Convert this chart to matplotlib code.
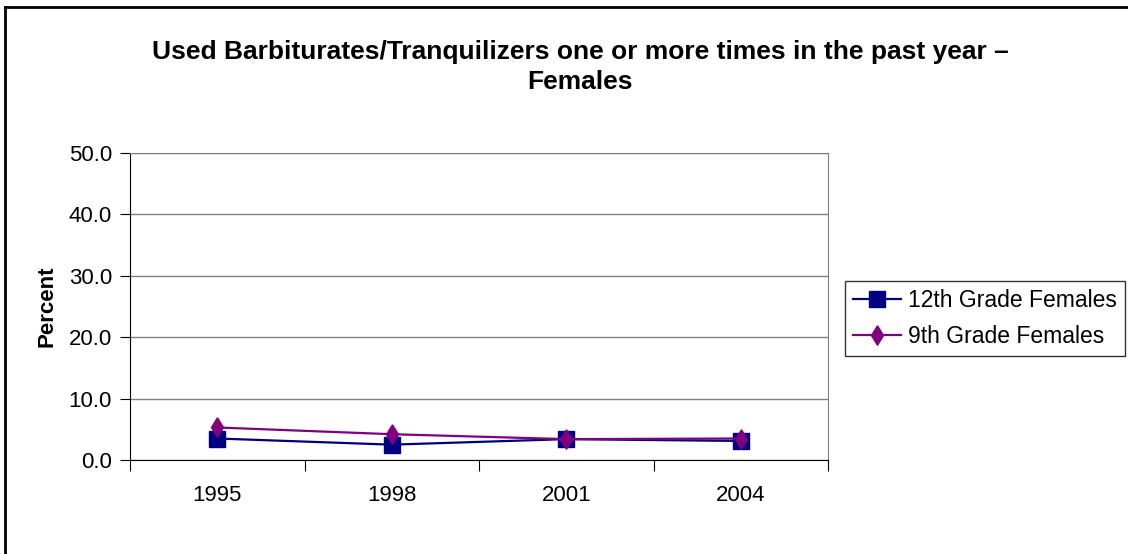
import matplotlib
matplotlib.use('Agg')
from matplotlib import pyplot as plt
from matplotlib.lines import Line2D

years = ['1995', '1998', '2001', '2004']
grade12 = [3.5, 2.5, 3.4, 3.1]
grade9 = [5.3, 4.2, 3.4, 3.5]

plt.rcParams['font.family'] = ['Liberation Sans', 'DejaVu Sans']

W, H = 1128, 554
fig = plt.figure(figsize=(W / 100, H / 100), dpi=100)
ax = fig.add_axes([130 / W, 1 - 460 / H, 698 / W, 307 / H])

# tall thin diamond like the original
diamond = [(0, 1), (0.62, 0), (0, -1), (-0.62, 0), (0, 1)]

x = [i + 0.5 for i in range(len(years))]
ax.plot(x, grade12, color='#000080', marker='s', markersize=11, linewidth=1.6,
        label='12th Grade Females')
ax.plot(x, grade9, color='#800080', marker=diamond, markersize=14, linewidth=1.6,
        label='9th Grade Females')

ax.set_xlim(0, len(years))
ax.set_ylim(0, 50)
yt = [0, 10, 20, 30, 40, 50]
ax.set_yticks(yt)
ax.set_yticklabels(['%.1f' % v for v in yt], fontsize=16)
ax.set_xticks(range(len(years) + 1))
ax.set_xticklabels([])
ax.set_xticks(x, minor=True)
ax.set_xticklabels(years, minor=True, fontsize=16)
ax.tick_params(axis='x', which='minor', length=0, pad=18)
ax.tick_params(axis='x', which='major', length=8, direction='out', color='black')
ax.tick_params(axis='y', length=7, direction='out', color='black', pad=6)
ax.grid(axis='y', color='#808080', linewidth=1)
ax.set_axisbelow(True)
for side in ['top', 'right']:
    ax.spines[side].set_color('#808080')
for side in ['left', 'bottom']:
    ax.spines[side].set_color('black')

ax.set_ylabel('Percent', fontsize=16, fontweight='bold', labelpad=8)

fig.text(580 / W, 1 - 67 / H,
         'Used Barbiturates/Tranquilizers one or more times in the past year \u2013\nFemales',
         ha='center', va='center', fontsize=19, fontweight='bold', linespacing=1.35)

leg = fig.legend(loc='upper left', bbox_to_anchor=(845 / W, 1 - 281 / H), fontsize=16.5,
                 frameon=True, fancybox=False, edgecolor='black', handlelength=2.1,
                 handletextpad=0.3, borderpad=0.35, labelspacing=0.55, borderaxespad=0)
leg.get_frame().set_linewidth(1)

# frame of the chart area: only top and left edges are visible
fig.add_artist(Line2D([5 / W, 1], [1 - 7 / H, 1 - 7 / H], transform=fig.transFigure,
                      color='black', linewidth=2))
fig.add_artist(Line2D([5 / W, 5 / W], [0, 1 - 7 / H], transform=fig.transFigure,
                      color='black', linewidth=2))

plt.savefig('out.png', dpi=100)
plt.close()
